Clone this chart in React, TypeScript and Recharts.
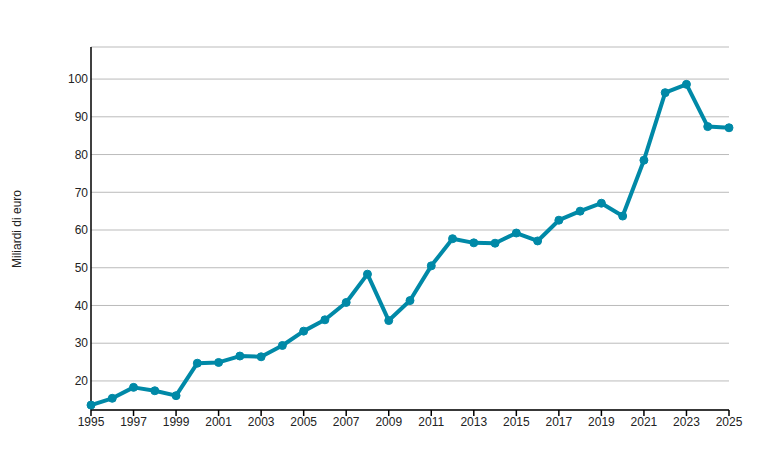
import React from 'react';
import { LineChart, Line, XAxis, YAxis, CartesianGrid } from 'recharts';

const years = [
  1995, 1996, 1997, 1998, 1999, 2000, 2001, 2002, 2003, 2004,
  2005, 2006, 2007, 2008, 2009, 2010, 2011, 2012, 2013, 2014,
  2015, 2016, 2017, 2018, 2019, 2020, 2021, 2022, 2023, 2024, 2025,
];
const values = [
  13.6, 15.4, 18.3, 17.4, 16.1, 24.7, 24.9, 26.6, 26.4, 29.4,
  33.2, 36.2, 40.8, 48.3, 36.0, 41.3, 50.5, 57.7, 56.6, 56.5,
  59.2, 57.1, 62.6, 65.0, 67.1, 63.7, 78.5, 96.4, 98.6, 87.4, 87.1,
];
const xTicks = [1995, 1997, 1999, 2001, 2003, 2005, 2007, 2009, 2011, 2013, 2015, 2017, 2019, 2021, 2023, 2025];
const yTicks = [20, 30, 40, 50, 60, 70, 80, 90, 100];
const yLabel = 'Miliardi di euro';

const data = years.map((year, i) => ({ year, value: values[i] }));

const font = '"Liberation Sans", Arial, sans-serif';
const lineColor = '#0089a7';

const AxisLabel = () => (
  <text
    x={17}
    y={229}
    transform="rotate(-90 17 229)"
    textAnchor="middle"
    dominantBaseline="central"
    fontSize={12}
    fontFamily={font}
    fill="#222"
  >
    {yLabel}
  </text>
);

const App = () => {
  return (
    <div style={{ position: 'absolute', left: 0, top: 0, width: 763, height: 453, background: '#fff' }}>
      <LineChart
        width={763}
        height={453}
        data={data}
        margin={{ top: 47, right: 34, bottom: 13, left: 31 }}
      >
        <CartesianGrid vertical={false} stroke="#bbbbbb" strokeWidth={1} />
        <XAxis
          dataKey="year"
          type="number"
          domain={[1995, 2025]}
          ticks={xTicks}
          interval={0}
          height={30}
          axisLine={{ stroke: '#000', strokeWidth: 1.5 }}
          tickLine={{ stroke: '#000', strokeWidth: 1.5 }}
          tickSize={6}
          tickMargin={1}
          tick={{ fontSize: 12, fontFamily: font, fill: '#222' }}
        />
        <YAxis
          type="number"
          domain={[12.3, 108.5]}
          ticks={yTicks}
          interval={0}
          width={60}
          axisLine={{ stroke: '#000', strokeWidth: 1.5 }}
          tickLine={false}
          tickSize={3}
          tickMargin={0}
          tick={{ fontSize: 12, fontFamily: font, fill: '#222' }}
          label={<AxisLabel />}
        />
        <Line
          type="linear"
          dataKey="value"
          stroke={lineColor}
          strokeWidth={4}
          strokeLinejoin="round"
          dot={{ r: 4, fill: lineColor, stroke: lineColor, strokeWidth: 1 }}
          isAnimationActive={false}
        />
      </LineChart>
    </div>
  );
};

export default App;
